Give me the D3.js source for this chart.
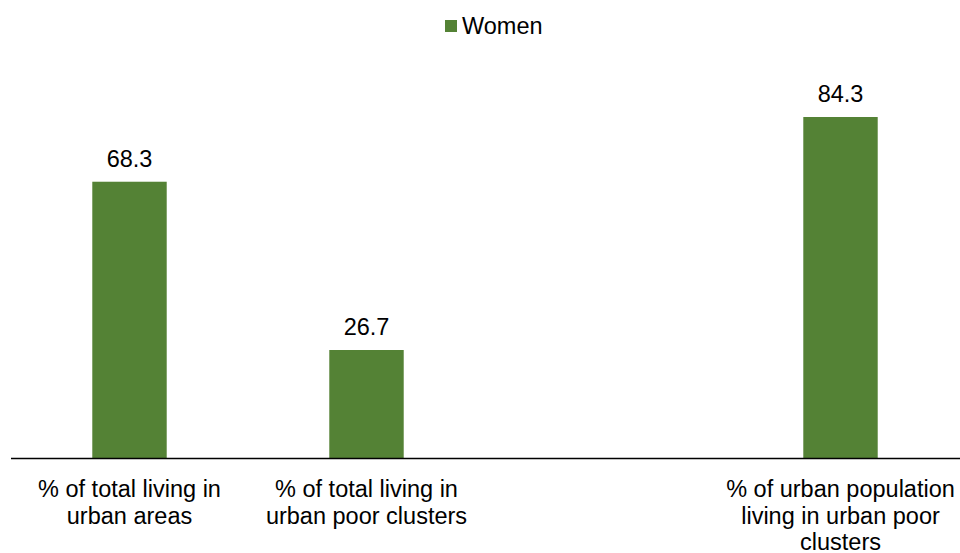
<!DOCTYPE html>
<html>
<head>
<meta charset="utf-8">
<script src="https://cdn.jsdelivr.net/npm/d3@7/dist/d3.min.js"></script>
<style>
  html, body { margin: 0; padding: 0; background: #ffffff; }
  svg { display: block; font-family: "Liberation Sans", Arial, sans-serif; }
</style>
</head>
<body>
<svg id="chart" width="960" height="553"></svg>
<script>
// Category labels (one slot is left empty on purpose), split into lines
const categories = [
  ["% of total living in", "urban areas"],
  ["% of total living in", "urban poor clusters"],
  [],
  ["% of urban population", "living in urban poor", "clusters"]
];
const seriesName = "Women";
const womenValues = [68.3, 26.7, null, 84.3];

const barColor = "#548235";
const fontSize = 23.5;
const svg = d3.select("#chart");

const x = d3.scaleBand()
  .domain(d3.range(categories.length))
  .range([11, 959])
  .paddingInner(0.686)
  .paddingOuter(0.343);

const y = d3.scaleLinear()
  .domain([0, 100])
  .range([458, 53.5]);

const points = womenValues.map((v, i) => ({ v, i })).filter(d => d.v != null);

// Bars
svg.append("g")
  .selectAll("rect")
  .data(points)
  .join("rect")
  .attr("x", d => x(d.i))
  .attr("y", d => y(d.v))
  .attr("width", x.bandwidth())
  .attr("height", d => y(0) - y(d.v))
  .attr("fill", barColor);

// Value labels
svg.append("g")
  .selectAll("text")
  .data(points)
  .join("text")
  .attr("x", d => x(d.i) + x.bandwidth() / 2)
  .attr("y", d => y(d.v) - 15)
  .attr("text-anchor", "middle")
  .attr("font-size", fontSize)
  .attr("fill", "#000")
  .text(d => d.v.toFixed(1));

// Category axis line
svg.append("line")
  .attr("x1", 11).attr("x2", 960)
  .attr("y1", y(0) + 0.5).attr("y2", y(0) + 0.5)
  .attr("stroke", "#000")
  .attr("stroke-width", 1.3);

// Category labels
const labelG = svg.append("g");
categories.forEach((lines, i) => {
  const t = labelG.append("text")
    .attr("text-anchor", "middle")
    .attr("font-size", fontSize)
    .attr("fill", "#000");
  lines.forEach((line, j) => {
    t.append("tspan")
      .attr("x", x(i) + x.bandwidth() / 2)
      .attr("y", 497 + j * 26.5)
      .text(line);
  });
});

// Legend
const legend = svg.append("g");
legend.append("rect")
  .attr("x", 445).attr("y", 20)
  .attr("width", 12).attr("height", 12)
  .attr("fill", barColor);
legend.append("text")
  .attr("x", 462).attr("y", 34)
  .attr("font-size", fontSize)
  .attr("fill", "#000")
  .text(seriesName);
</script>
</body>
</html>
